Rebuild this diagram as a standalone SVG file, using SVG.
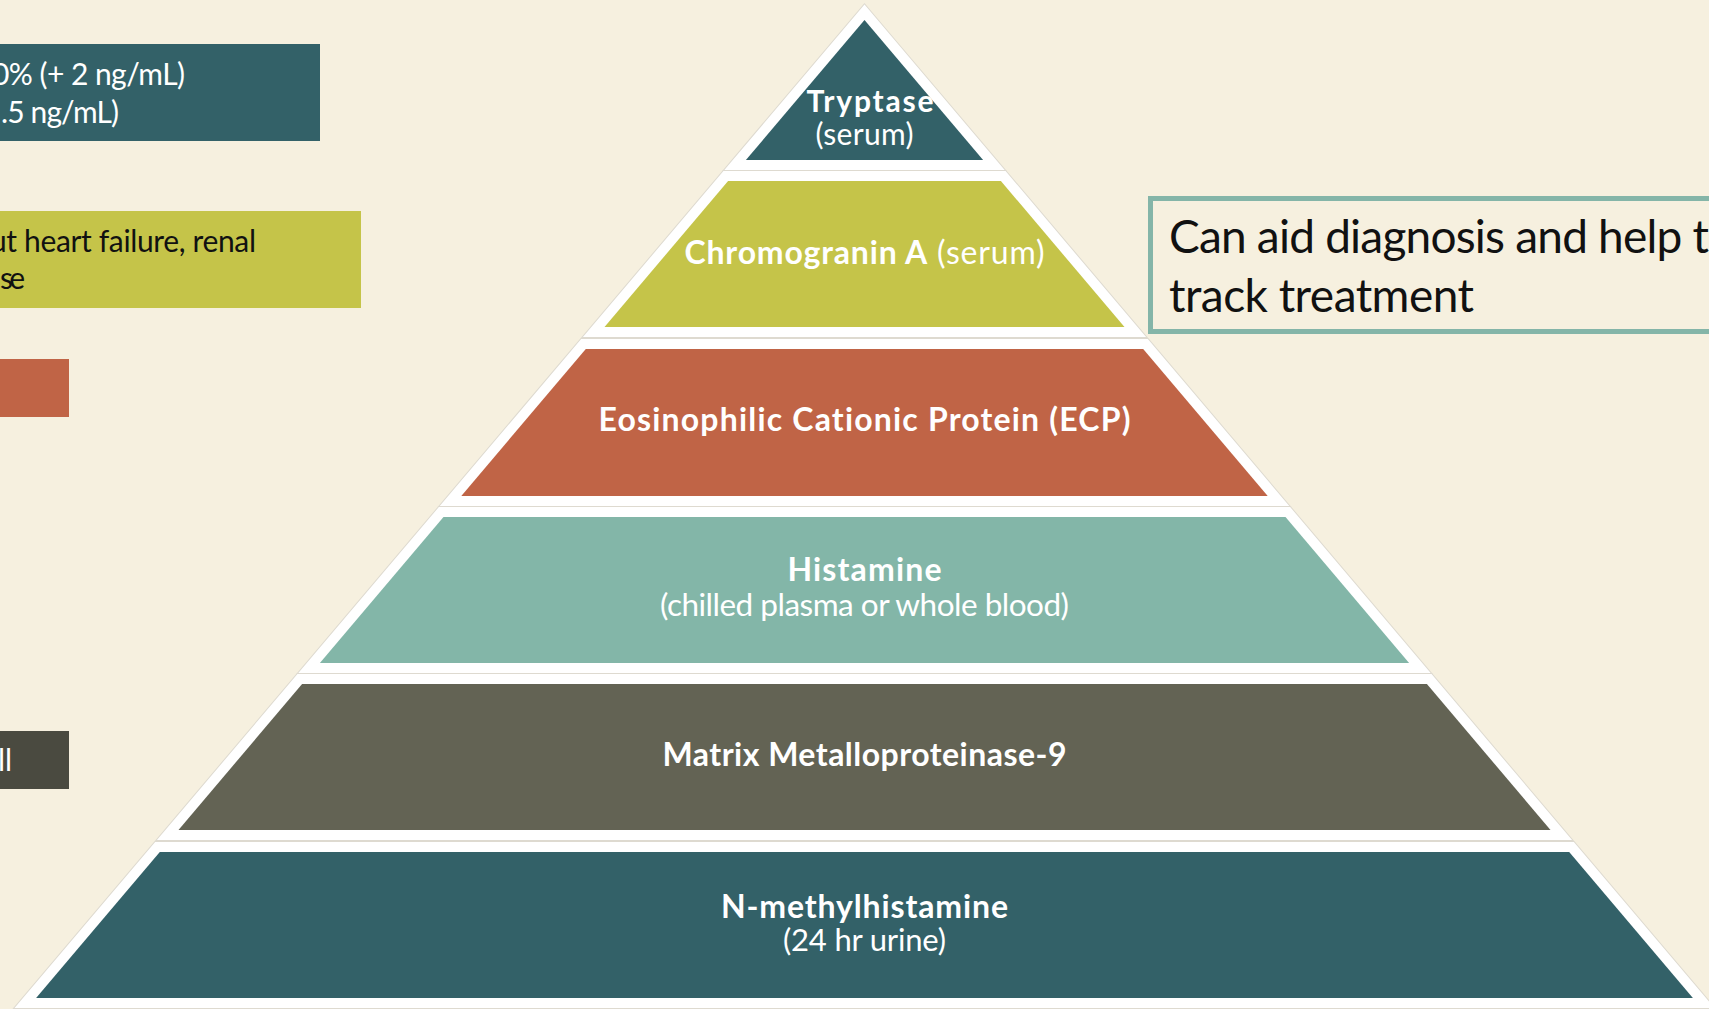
<svg xmlns="http://www.w3.org/2000/svg" width="1709" height="1009" viewBox="0 0 1709 1009">
<style>
.edge{fill:none;stroke:#dedad0;stroke-width:22;stroke-linejoin:miter;stroke-miterlimit:10}
.tier{stroke:#ffffff;stroke-width:20;stroke-linejoin:miter;stroke-miterlimit:10;paint-order:stroke}
text{font-variant-ligatures:none}
.b{font-family:Lato,"Liberation Sans",sans-serif;font-weight:700;fill:#ffffff}
.r{font-family:Lato,"Liberation Sans",sans-serif;font-weight:400;fill:#ffffff}
.side{font-family:Lato,"Liberation Sans",sans-serif;font-weight:400;font-size:30px}
</style>
<defs>
<polygon id="p1" points="864.5,20 983.1,160 745.9,160"/>
<polygon id="p2" points="728.1,181 1000.9,181 1124.5,327 604.5,327"/>
<polygon id="p3" points="585.8,349 1143.2,349 1267.7,496 461.3,496"/>
<polygon id="p4" points="443.5,517 1285.5,517 1409.1,663 319.9,663"/>
<polygon id="p5" points="302.1,684 1426.9,684 1550.5,830 178.5,830"/>
<polygon id="p6" points="159.8,852 1569.2,852 1692.9,998 36.1,998"/>
</defs>
<rect x="0" y="0" width="1709" height="1009" fill="#F6F0DF"/>

<g id="box-tryptase-left">
<rect x="0" y="44" width="320" height="97" fill="#336168"/>
<text class="side" fill="#ffffff" x="-8" y="85" textLength="193">0% (+ 2 ng/mL)</text>
<text class="side" fill="#ffffff" x="1" y="123" textLength="118">.5 ng/mL)</text>
</g>
<g id="box-chromogranin-left">
<rect x="0" y="211" width="361" height="97" fill="#C5C449"/>
<text class="side" fill="#111111" x="-10" y="252" textLength="266">ut heart failure, renal</text>
<text class="side" fill="#111111" x="0" y="289" textLength="25">se</text>
</g>
<g id="box-ecp-left">
<rect x="0" y="359" width="69" height="58" fill="#C06446"/>
</g>
<g id="box-mmp-left">
<rect x="0" y="731" width="69" height="58" fill="#4A4A40"/>
<text class="side" fill="#ffffff" x="-2" y="771">ll</text>
</g>

<g id="tier-tryptase">
<use href="#p1" class="edge"/>
<use href="#p1" class="tier" fill="#336168"/>
<text class="b" x="870" y="112" font-size="30" text-anchor="middle" textLength="127">Tryptase</text>
<text class="r" x="864.5" y="145" font-size="30" text-anchor="middle" textLength="98">(serum)</text>
</g>
<g id="tier-chromogranin">
<use href="#p2" class="edge"/>
<use href="#p2" class="tier" fill="#C5C449"/>
<text class="b" x="864.5" y="264" font-size="32" text-anchor="middle" textLength="360">Chromogranin A<tspan class="r"> (serum)</tspan></text>
</g>
<g id="tier-ecp">
<use href="#p3" class="edge"/>
<use href="#p3" class="tier" fill="#C06446"/>
<text class="b" x="864.5" y="431" font-size="32" text-anchor="middle" textLength="532">Eosinophilic Cationic Protein (ECP)</text>
</g>
<g id="tier-histamine">
<use href="#p4" class="edge"/>
<use href="#p4" class="tier" fill="#83B6A8"/>
<text class="b" x="864.5" y="581" font-size="32" text-anchor="middle" textLength="154">Histamine</text>
<text class="r" x="864.5" y="616" font-size="31.5" text-anchor="middle" textLength="409">(chilled plasma or whole blood)</text>
</g>
<g id="tier-mmp9">
<use href="#p5" class="edge"/>
<use href="#p5" class="tier" fill="#636354"/>
<text class="b" x="864.5" y="766" font-size="32" text-anchor="middle" textLength="404">Matrix Metalloproteinase-9</text>
</g>
<g id="tier-nmethylhistamine">
<use href="#p6" class="edge"/>
<use href="#p6" class="tier" fill="#336168"/>
<text class="b" x="864.5" y="918" font-size="32" text-anchor="middle" textLength="287">N-methylhistamine</text>
<text class="r" x="864.5" y="951" font-size="31" text-anchor="middle" textLength="163">(24 hr urine)</text>
</g>

<g id="callout-right">
<rect x="1150.5" y="198.5" width="600" height="133" fill="#F6F0DF" stroke="#84B5A8" stroke-width="5"/>
<text class="side" fill="#111111" style="font-size:46px" x="1169" y="253" textLength="540">Can aid diagnosis and help t</text>
<text class="side" fill="#111111" style="font-size:46px" x="1169" y="312" textLength="305">track treatment</text>
</g>
<g id="connectors"/>
</svg>
